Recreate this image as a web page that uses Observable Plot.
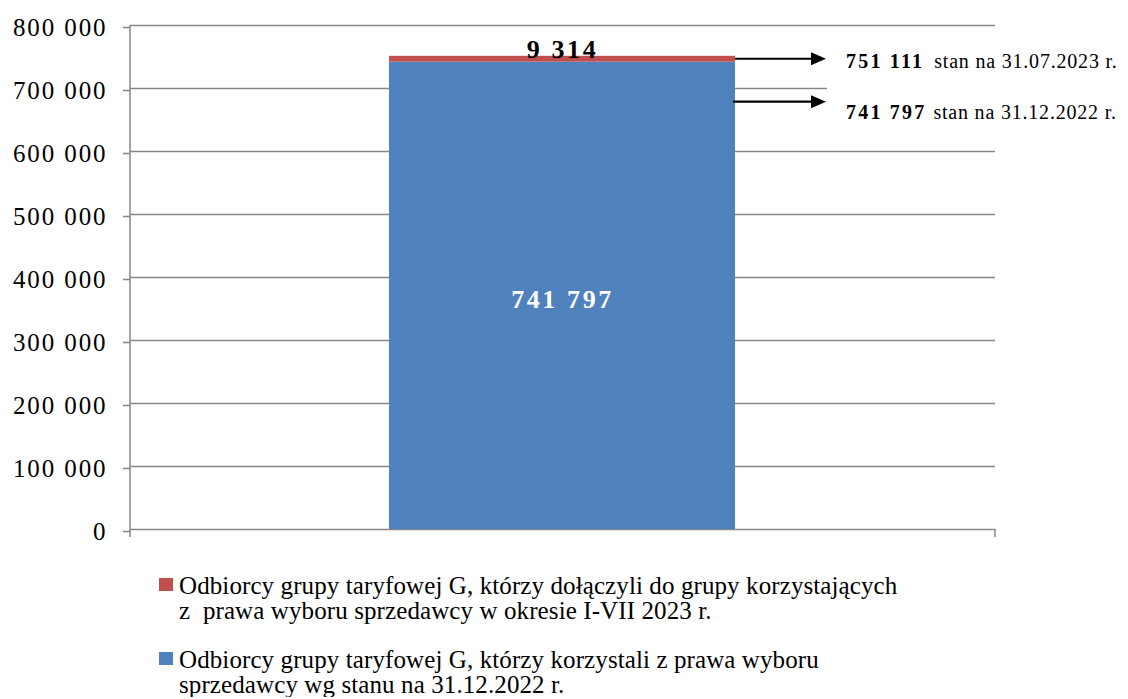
<!DOCTYPE html>
<html>
<head>
<meta charset="utf-8">
<script src="https://cdn.jsdelivr.net/npm/d3@7"></script>
<script src="https://cdn.jsdelivr.net/npm/@observablehq/plot@0.6"></script>
<style>
  html, body { margin: 0; padding: 0; background: #fff; }
  #chart { width: 1128px; height: 545px; }
  #legend { margin-left: 159px; margin-top: 28px; font-family: "Liberation Serif", "Times New Roman", serif; font-size: 25px; letter-spacing: 0.1px; color: #000; }
  .item { display: flex; align-items: flex-start; line-height: 25px; white-space: nowrap; }
  .item + .item { margin-top: 24px; }
  .sw { width: 14px; height: 13px; flex: none; margin-top: 5px; margin-right: 6px; }
</style>
</head>
<body>
<div id="chart"></div>
<div id="legend"></div>
<script>
// ---- data ----
const category = "Odbiorcy grupy taryfowej G";
const seriesKeys = ["base2022", "joined2023"];
const seriesValues = [741797, 9314];
const seriesColors = ["#4F81BD", "#C0504D"];
const legendLines = [
  ["Odbiorcy grupy taryfowej G, którzy dołączyli do grupy korzystających", "z  prawa wyboru sprzedawcy w okresie I-VII 2023 r."],
  ["Odbiorcy grupy taryfowej G, którzy korzystali z prawa wyboru", "sprzedawcy wg stanu na 31.12.2022 r."]
];
const legendOrder = ["joined2023", "base2022"];
const annotationValues = [751111, 741797];
const annotationTexts = ["stan na 31.07.2023 r.", "stan na 31.12.2022 r."];
const yTicks = [0, 100000, 200000, 300000, 400000, 500000, 600000, 700000, 800000];

// ---- helpers ----
const fmt = d3.formatLocale({thousands: " ", grouping: [3], decimal: ",", currency: ["", ""]}).format(",d");
const table = seriesKeys.map((k, i) => ({cat: category, series: k, value: seriesValues[i]}));
const total = d3.sum(seriesValues);
const labelData = [
  {cat: category, y: seriesValues[0] / 2, text: fmt(seriesValues[0]), kind: "inner"},
  {cat: category, y: total, text: fmt(seriesValues[1]), kind: "top"}
];
const serif = "'Liberation Serif', 'Times New Roman', serif";
const gridColor = "#868686";

function annotations(index, scales, values, dimensions) {
  const {x, y} = scales;
  const {width, marginLeft, marginRight, marginTop} = dimensions;
  const bw = typeof x.bandwidth === "function" ? x.bandwidth() : 0;
  const barRight = x(category) + bw;
  const g = d3.create("svg:g").attr("text-anchor", "start");
  const y0 = y(0);
  // vertical axis line and bottom category ticks
  g.append("line").attr("x1", marginLeft).attr("x2", marginLeft).attr("y1", marginTop).attr("y2", y0 + 8)
    .attr("stroke", gridColor).attr("stroke-width", 1.5);
  g.append("line").attr("x1", width - marginRight).attr("x2", width - marginRight).attr("y1", y0).attr("y2", y0 + 8)
    .attr("stroke", gridColor).attr("stroke-width", 1.5);
  // arrows + texts
  const arrowYs = [y(seriesValues[0] + seriesValues[1] / 2), y(annotationValues[1]) + 40];
  const textDy = [2.5, 10];
  const starts = [barRight, barRight - 2];
  const gaps = [10, 7];
  const tip = barRight + 91;
  // white box behind second label (covers grid line like the original text box)
  g.append("rect").attr("x", tip + 1).attr("y", arrowYs[1] - 16).attr("width", width - tip).attr("height", 44).attr("fill", "#fff");
  annotationValues.forEach((v, i) => {
    const ay = arrowYs[i];
    g.append("line").attr("x1", starts[i]).attr("x2", tip - 12).attr("y1", ay).attr("y2", ay)
      .attr("stroke", "#000").attr("stroke-width", 2.2);
    g.append("path").attr("d", `M${tip},${ay}L${tip - 15},${ay - 6.5}L${tip - 15},${ay + 6.5}Z`).attr("fill", "#000");
    const t = g.append("text").attr("x", tip + 20).attr("y", ay + textDy[i]).attr("dy", "0.35em")
      .attr("font-family", serif).attr("font-size", 20).attr("fill", "#000");
    t.append("tspan").attr("font-weight", "bold").attr("letter-spacing", 2.2).text(fmt(v));
    t.append("tspan").attr("dx", gaps[i]).attr("letter-spacing", 0.8).text(annotationTexts[i]);
  });
  return g.node();
}

const chart = Plot.plot({
  width: 1128,
  height: 545,
  marginLeft: 130,
  marginRight: 133,
  marginTop: 25,
  marginBottom: 16,
  style: {background: "#fff", color: "#000", overflow: "visible"},
  x: {domain: [category], padding: 0.4275, axis: null},
  y: {domain: [0, 800000], axis: null},
  color: {domain: seriesKeys, range: seriesColors},
  marks: [
    Plot.ruleY(yTicks, {stroke: gridColor, strokeWidth: 1.5}),
    Plot.barY(table, {x: "cat", y: "value", fill: "series"}),
    Plot.text(labelData.filter(d => d.kind === "inner"), {x: "cat", y: "y", text: "text", fill: "#fff", fontWeight: "bold", fontSize: 26, fontFamily: serif, dy: 4}),
    Plot.text(labelData.filter(d => d.kind === "top"), {x: "cat", y: "y", text: "text", fill: "#000", fontWeight: "bold", fontSize: 26, fontFamily: serif, dy: -7}),
    Plot.axisY(yTicks, {anchor: "left", tickSize: 7, tickPadding: 16, stroke: gridColor, strokeWidth: 1.5, fill: "#000", fontSize: 25, fontFamily: serif, tickFormat: fmt, dy: 2}),
    annotations
  ]
});
document.getElementById("chart").appendChild(chart);
// letter spacing to approximate the wider Cambria digits
d3.select(chart).selectAll('g[aria-label="y-axis tick label"] text').attr("letter-spacing", 1.9);
d3.select(chart).selectAll('g[aria-label="text"] text').attr("letter-spacing", 2.6);

// ---- legend ----
const legend = document.getElementById("legend");
legendOrder.forEach((key, j) => {
  const i = seriesKeys.indexOf(key);
  const item = document.createElement("div");
  item.className = "item";
  const sw = document.createElement("div");
  sw.className = "sw";
  sw.style.background = seriesColors[i];
  const txt = document.createElement("div");
  txt.innerHTML = legendLines[j].map(s => s.replace(/  /g, " &nbsp;")).join("<br>");
  item.appendChild(sw);
  item.appendChild(txt);
  legend.appendChild(item);
});
</script>
</body>
</html>
